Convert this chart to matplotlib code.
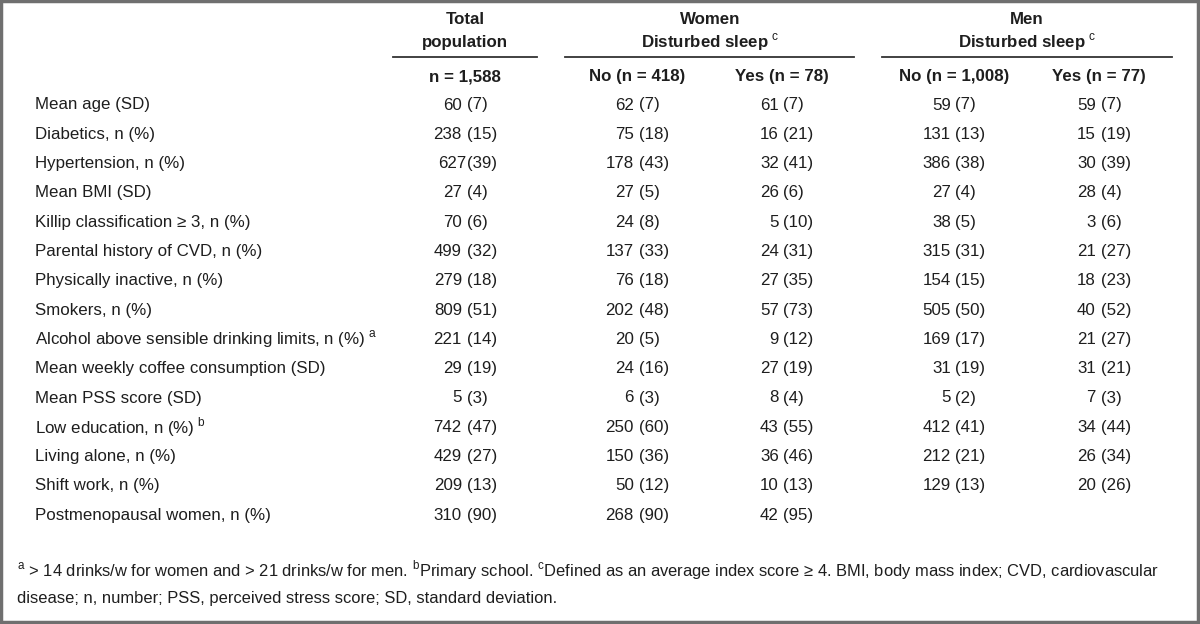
import matplotlib
matplotlib.use("Agg")
import matplotlib.pyplot as plt
from matplotlib.patches import Rectangle

plt.rcParams['font.family'] = ['Liberation Sans Narrow', 'Liberation Sans', 'DejaVu Sans']
plt.rcParams['mathtext.fontset'] = 'custom'
plt.rcParams['mathtext.rm'] = 'Liberation Sans'
plt.rcParams['mathtext.bf'] = 'Liberation Sans:bold'

# dados da tabela
linhas = ['Mean age (SD)', 'Diabetics, n (%)', 'Hypertension, n (%)', 'Mean BMI (SD)',
          'Killip classification ≥ 3, n (%)', 'Parental history of CVD, n (%)',
          'Physically inactive, n (%)', 'Smokers, n (%)',
          r'Alcohol above sensible drinking limits, n (%)$^{\rm\ a}$',
          'Mean weekly coffee consumption (SD)', 'Mean PSS score (SD)',
          r'Low education, n (%)$^{\rm\ b}$', 'Living alone, n (%)', 'Shift work, n (%)',
          'Postmenopausal women, n (%)']
total = ['60 (7)', '238 (15)', '627(39)', '27 (4)', '70 (6)', '499 (32)', '279 (18)', '809 (51)',
         '221 (14)', '29 (19)', '5 (3)', '742 (47)', '429 (27)', '209 (13)', '310 (90)']
mulheres_nao = ['62 (7)', '75 (18)', '178 (43)', '27 (5)', '24 (8)', '137 (33)', '76 (18)', '202 (48)',
                '20 (5)', '24 (16)', '6 (3)', '250 (60)', '150 (36)', '50 (12)', '268 (90)']
mulheres_sim = ['61 (7)', '16 (21)', '32 (41)', '26 (6)', '5 (10)', '24 (31)', '27 (35)', '57 (73)',
                '9 (12)', '27 (19)', '8 (4)', '43 (55)', '36 (46)', '10 (13)', '42 (95)']
homens_nao = ['59 (7)', '131 (13)', '386 (38)', '27 (4)', '38 (5)', '315 (31)', '154 (15)', '505 (50)',
              '169 (17)', '31 (19)', '5 (2)', '412 (41)', '212 (21)', '129 (13)', '']
homens_sim = ['59 (7)', '15 (19)', '30 (39)', '28 (4)', '3 (6)', '21 (27)', '18 (23)', '40 (52)',
              '21 (27)', '31 (21)', '7 (3)', '34 (44)', '26 (34)', '20 (26)', '']
cabecalho_n = ['n = 1,588', 'No (n = 418)', 'Yes (n = 78)', 'No (n = 1,008)', 'Yes (n = 77)']
rodape = [r'$^{\rm a}$ > 14 drinks/w for women and > 21 drinks/w for men. $^{\rm b}$Primary school. '
          r'$^{\rm c}$Defined as an average index score ≥ 4. BMI, body mass index; CVD, cardiovascular',
          'disease; n, number; PSS, perceived stress score; SD, standard deviation.']

cor = '#1e1e1e'
fs = 12.2

fig = plt.figure(figsize=(12, 6.24), dpi=100)
ax = fig.add_axes([0, 0, 1, 1])
ax.set_xlim(0, 1200)
ax.set_ylim(624, 0)
ax.axis('off')

# moldura
ax.add_patch(Rectangle((1, 1), 1197, 621, fill=False, edgecolor='#6f6f6f', linewidth=2.5))

# cabeçalhos de grupo
grupos = [('Total', 'population', 465, 393, 537),
          ('Women', r'Disturbed sleep$^{\rm\ c}$', 710, 565, 854),
          ('Men', r'Disturbed sleep$^{\rm\ c}$', 1027, 882, 1172)]
for l1, l2, xc, x0, x1 in grupos:
    ax.text(xc, 19, l1, ha='center', va='center', fontsize=fs, fontweight='bold', color=cor)
    ax.text(xc, 42, l2, ha='center', va='center', fontsize=fs, fontweight='bold', color=cor)
    ax.plot([x0, x1], [57, 57], color='#333333', linewidth=1.3)

colunas_x = [465, 637, 782, 954, 1099]
for x, t in zip(colunas_x, cabecalho_n):
    ax.text(x, 77, t, ha='center', va='center', fontsize=fs, fontweight='bold', color=cor)

# valores alinhados pelo parêntese
espaco = 0.278 * fs * 100 / 72
colunas = [total, mulheres_nao, mulheres_sim, homens_nao, homens_sim]
y0, dy = 105, 29.3
for i, rotulo in enumerate(linhas):
    y = y0 + i * dy
    ax.text(35, y, rotulo, ha='left', va='center', fontsize=fs, color=cor)
    for x, col in zip(colunas_x, colunas):
        v = col[i]
        if not v:
            continue
        num, pct = v.split('(')
        xa = x + 1.5
        gap = espaco if num.endswith(' ') else 0
        ax.text(xa - gap, y, num.strip(), ha='right', va='center', fontsize=fs, color=cor)
        ax.text(xa, y, '(' + pct, ha='left', va='center', fontsize=fs, color=cor)

for j, t in enumerate(rodape):
    ax.text(17, 570 + j * 28, t, ha='left', va='center', fontsize=11.9, color=cor)

plt.savefig('out.png', dpi=100)
plt.close()
